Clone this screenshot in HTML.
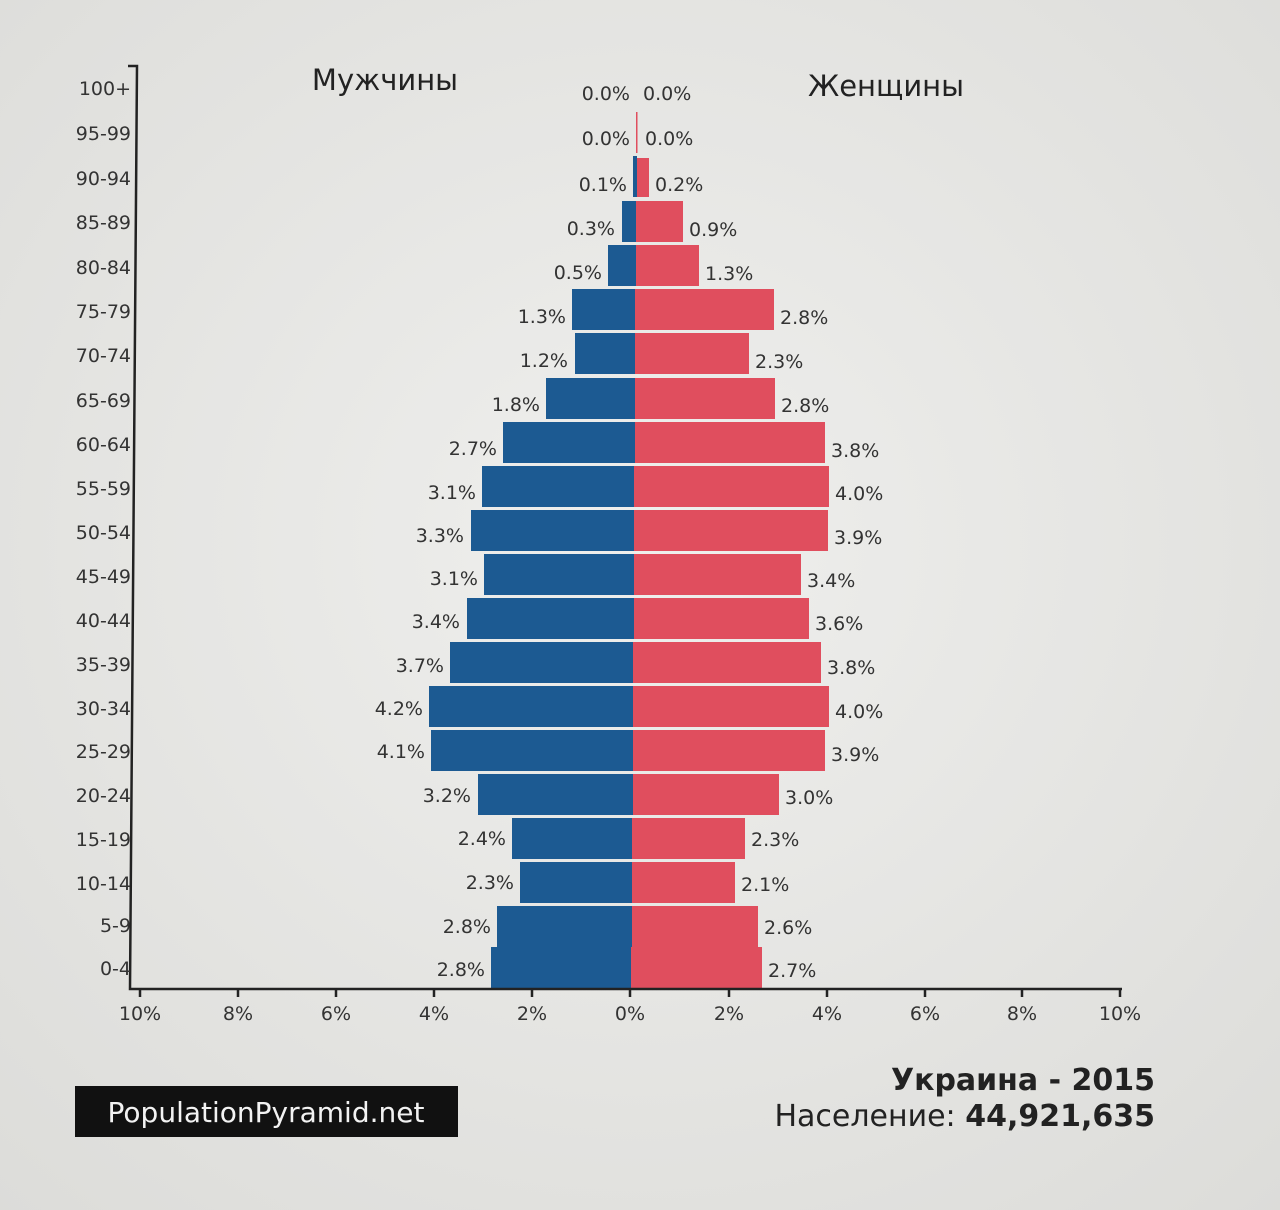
<!DOCTYPE html>
<html><head><meta charset="utf-8"><style>
html,body{margin:0;padding:0;background:#e9e9e6;}
svg{display:block;font-family:"DejaVu Sans","Liberation Sans",sans-serif;}
</style></head><body>
<svg width="1280" height="1210" viewBox="0 0 1280 1210" xmlns="http://www.w3.org/2000/svg">
<defs><radialGradient id="bg" cx="50%" cy="45%" r="75%"><stop offset="0" stop-color="#efefed"/><stop offset="1" stop-color="#dcdcd9"/></radialGradient></defs>
<rect width="1280" height="1210" fill="url(#bg)"/>
<g fill="#1c5a92">
<rect x="633" y="156" width="4" height="41"/>
<rect x="622" y="201" width="14" height="41"/>
<rect x="608" y="245" width="28" height="41"/>
<rect x="572" y="289" width="63" height="41"/>
<rect x="575" y="333" width="60" height="41"/>
<rect x="546" y="378" width="89" height="41"/>
<rect x="503" y="422" width="132" height="41"/>
<rect x="482" y="466" width="152" height="41"/>
<rect x="471" y="510" width="163" height="41"/>
<rect x="484" y="554" width="150" height="41"/>
<rect x="467" y="598" width="167" height="41"/>
<rect x="450" y="642" width="183" height="41"/>
<rect x="429" y="686" width="204" height="41"/>
<rect x="431" y="730" width="202" height="41"/>
<rect x="478" y="774" width="155" height="41"/>
<rect x="512" y="818" width="120" height="41"/>
<rect x="520" y="862" width="112" height="41"/>
<rect x="497" y="906" width="135" height="41"/>
<rect x="491" y="947" width="140" height="41"/>
</g>
<g fill="#e04e5e">
<rect x="636" y="112" width="1.5" height="41"/>
<rect x="637" y="158" width="12" height="39"/>
<rect x="636" y="201" width="47" height="41"/>
<rect x="636" y="245" width="63" height="41"/>
<rect x="635" y="289" width="139" height="41"/>
<rect x="635" y="333" width="114" height="41"/>
<rect x="635" y="378" width="140" height="41"/>
<rect x="635" y="422" width="190" height="41"/>
<rect x="634" y="466" width="195" height="41"/>
<rect x="634" y="510" width="194" height="41"/>
<rect x="634" y="554" width="167" height="41"/>
<rect x="634" y="598" width="175" height="41"/>
<rect x="633" y="642" width="188" height="41"/>
<rect x="633" y="686" width="196" height="41"/>
<rect x="633" y="730" width="192" height="41"/>
<rect x="633" y="774" width="146" height="41"/>
<rect x="632" y="818" width="113" height="41"/>
<rect x="632" y="862" width="103" height="41"/>
<rect x="632" y="906" width="126" height="41"/>
<rect x="631" y="947" width="131" height="41"/>
</g>
<g stroke="#222" stroke-width="2.5" fill="none">
<path d="M128 66 H137 L130 989 H1122"/>
<path d="M140 989v8M238 989v8M336 989v8M434 989v8M532 989v8M630 989v8M729 989v8M827 989v8M925 989v8M1022 989v8M1120 989v8"/>
</g>
<g font-size="19" fill="#333" text-anchor="middle">
<text x="140" y="1020">10%</text><text x="238" y="1020">8%</text><text x="336" y="1020">6%</text><text x="434" y="1020">4%</text><text x="532" y="1020">2%</text><text x="630" y="1020">0%</text><text x="729" y="1020">2%</text><text x="827" y="1020">4%</text><text x="925" y="1020">6%</text><text x="1022" y="1020">8%</text><text x="1120" y="1020">10%</text>
</g>
<g font-size="19" fill="#333" text-anchor="end">
<text x="131" y="95">100+</text><text x="131" y="140">95-99</text><text x="131" y="185">90-94</text><text x="131" y="229">85-89</text><text x="131" y="274">80-84</text><text x="131" y="318">75-79</text><text x="131" y="362">70-74</text><text x="131" y="407">65-69</text><text x="131" y="451">60-64</text><text x="131" y="495">55-59</text><text x="131" y="539">50-54</text><text x="131" y="583">45-49</text><text x="131" y="627">40-44</text><text x="131" y="671">35-39</text><text x="131" y="715">30-34</text><text x="131" y="758">25-29</text><text x="131" y="802">20-24</text><text x="131" y="846">15-19</text><text x="131" y="890">10-14</text><text x="131" y="932">5-9</text><text x="131" y="975">0-4</text>
</g>
<g font-size="19" fill="#333" text-anchor="end">
<text x="630" y="100">0.0%</text><text x="630" y="145">0.0%</text><text x="627" y="191">0.1%</text><text x="615" y="235">0.3%</text><text x="602" y="279">0.5%</text><text x="566" y="323">1.3%</text><text x="568" y="367">1.2%</text><text x="540" y="411">1.8%</text><text x="497" y="455">2.7%</text><text x="476" y="499">3.1%</text><text x="464" y="542">3.3%</text><text x="478" y="585">3.1%</text><text x="460" y="628">3.4%</text><text x="444" y="672">3.7%</text><text x="423" y="715">4.2%</text><text x="425" y="758">4.1%</text><text x="471" y="802">3.2%</text><text x="506" y="845">2.4%</text><text x="514" y="889">2.3%</text><text x="491" y="933">2.8%</text><text x="485" y="976">2.8%</text>
</g>
<g font-size="19" fill="#333">
<text x="643" y="100">0.0%</text><text x="645" y="145">0.0%</text><text x="655" y="191">0.2%</text><text x="689" y="236">0.9%</text><text x="705" y="280">1.3%</text><text x="780" y="324">2.8%</text><text x="755" y="368">2.3%</text><text x="781" y="412">2.8%</text><text x="831" y="457">3.8%</text><text x="835" y="500">4.0%</text><text x="834" y="544">3.9%</text><text x="807" y="587">3.4%</text><text x="815" y="630">3.6%</text><text x="827" y="674">3.8%</text><text x="835" y="718">4.0%</text><text x="831" y="761">3.9%</text><text x="785" y="804">3.0%</text><text x="751" y="846">2.3%</text><text x="741" y="891">2.1%</text><text x="764" y="934">2.6%</text><text x="768" y="977">2.7%</text>
</g>
<text x="385" y="90" font-size="29" fill="#222" text-anchor="middle">Мужчины</text>
<text x="886" y="96" font-size="29" fill="#222" text-anchor="middle">Женщины</text>
<rect x="75" y="1086" width="383" height="51" fill="#111"/>
<text x="266" y="1122" font-size="28" fill="#f2f2f2" text-anchor="middle">PopulationPyramid.net</text>
<text x="1155" y="1090" font-size="30" font-weight="bold" fill="#222" text-anchor="end">Украина - 2015</text>
<text x="1155" y="1126" font-size="30" fill="#222" text-anchor="end">Население: <tspan font-weight="bold">44,921,635</tspan></text>
</svg>
</body></html>
